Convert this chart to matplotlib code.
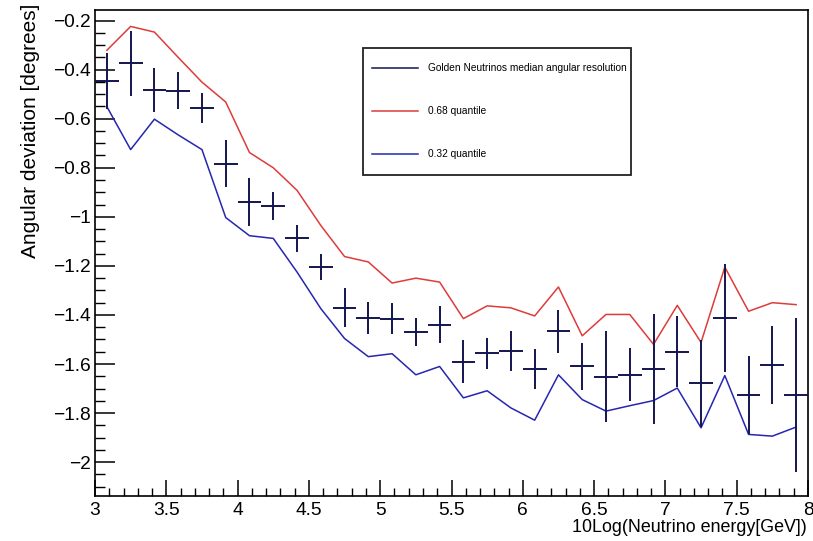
import matplotlib
matplotlib.use("Agg")
import matplotlib.pyplot as plt
import numpy as np
from matplotlib.lines import Line2D
from matplotlib.patches import Rectangle
from matplotlib.ticker import MultipleLocator

plt.rcParams["font.family"] = ["Liberation Sans", "DejaVu Sans"]

# 30 bins of log10(E/GeV) between 3 and 8
E_LO, E_HI, NBINS = 3.0, 8.0, 30
bin_w = (E_HI - E_LO) / NBINS
energy = E_LO + bin_w * (np.arange(NBINS) + 0.5)

median = [-0.446, -0.375, -0.483, -0.486, -0.555, -0.783, -0.939, -0.956,
          -1.088, -1.205, -1.371, -1.411, -1.415, -1.471, -1.439, -1.590,
          -1.556, -1.547, -1.620, -1.466, -1.610, -1.651, -1.644, -1.620,
          -1.550, -1.678, -1.412, -1.728, -1.604, -1.728]
median_err = [0.115, 0.132, 0.090, 0.076, 0.061, 0.097, 0.098, 0.057,
              0.056, 0.054, 0.080, 0.065, 0.064, 0.057, 0.076, 0.088,
              0.064, 0.080, 0.082, 0.088, 0.096, 0.187, 0.108, 0.225,
              0.145, 0.177, 0.219, 0.159, 0.159, 0.314]
q68 = [-0.321, -0.224, -0.247, -0.350, -0.451, -0.532, -0.738, -0.800,
       -0.892, -1.035, -1.162, -1.184, -1.270, -1.250, -1.266, -1.415,
       -1.363, -1.371, -1.404, -1.286, -1.485, -1.398, -1.398, -1.520,
       -1.361, -1.512, -1.205, -1.385, -1.350, -1.358]
q32 = [-0.551, -0.726, -0.602, -0.666, -0.726, -1.003, -1.077, -1.088,
       -1.225, -1.374, -1.496, -1.570, -1.558, -1.644, -1.610, -1.738,
       -1.709, -1.779, -1.829, -1.644, -1.745, -1.792, -1.770, -1.749,
       -1.698, -1.860, -1.647, -1.887, -1.894, -1.857]

C_MED = "#15154f"
C_68 = "#de3b3b"
C_32 = "#2626b0"

fig = plt.figure(figsize=(8.13, 5.41), dpi=100)
ax = fig.add_axes([95 / 813, 1 - 496 / 541, 713 / 813, 486 / 541])

ax.plot(energy, q68, color=C_68, lw=1.1, zorder=2)
ax.plot(energy, q32, color=C_32, lw=1.1, zorder=2)
ax.errorbar(energy, median, xerr=bin_w / 2, yerr=median_err, fmt="none",
            ecolor=C_MED, elinewidth=1.4, capsize=0, zorder=3)

ax.set_xlim(E_LO, E_HI)
ax.set_ylim(-2.138, -0.157)

ax.xaxis.set_major_locator(MultipleLocator(0.5))
ax.xaxis.set_minor_locator(MultipleLocator(0.1))
ax.yaxis.set_major_locator(MultipleLocator(0.2))
ax.yaxis.set_minor_locator(MultipleLocator(0.05))
ax.xaxis.set_major_formatter(plt.FuncFormatter(lambda v, p: f"{v:g}"))
ax.yaxis.set_major_formatter(
    plt.FuncFormatter(lambda v, p: f"{v:g}".replace("-", "\u2212")))

ax.tick_params(which="both", direction="in", top=False, right=False,
               labelsize=13.8, color="black")
ax.tick_params(axis="x", which="major", length=11.5, width=1.1, pad=4)
ax.tick_params(axis="x", which="minor", length=5.8, width=1.0)
ax.tick_params(axis="y", which="major", length=14.5, width=1.1, pad=3)
ax.tick_params(axis="y", which="minor", length=7.5, width=1.0)
for sp in ax.spines.values():
    sp.set_linewidth(1.2)

fig.text(31 / 813, 1 - 4 / 541, "Angular deviation [degrees]", rotation=90,
         ha="center", va="top", fontsize=15)
fig.text(807 / 813, 1 - 532 / 541, "10Log(Neutrino energy[GeV])",
         ha="right", va="baseline", fontsize=12.9)

# legend box
ax.add_patch(Rectangle((0.376, 0.660), 0.376, 0.262, transform=ax.transAxes,
                       facecolor="white", edgecolor="#222222", lw=1.3,
                       zorder=5))
entries = [("Golden Neutrinos median angular resolution", C_MED, 0.880),
           ("0.68 quantile", C_68, 0.792),
           ("0.32 quantile", C_32, 0.704)]
for label, col, ya in entries:
    ax.add_line(Line2D([0.388, 0.453], [ya, ya], transform=ax.transAxes,
                       color=col, lw=1.1, zorder=6))
    ax.text(0.467, ya, label, transform=ax.transAxes, ha="left",
            va="center", fontsize=7.3, zorder=6)

fig.savefig("out.png", dpi=100)
